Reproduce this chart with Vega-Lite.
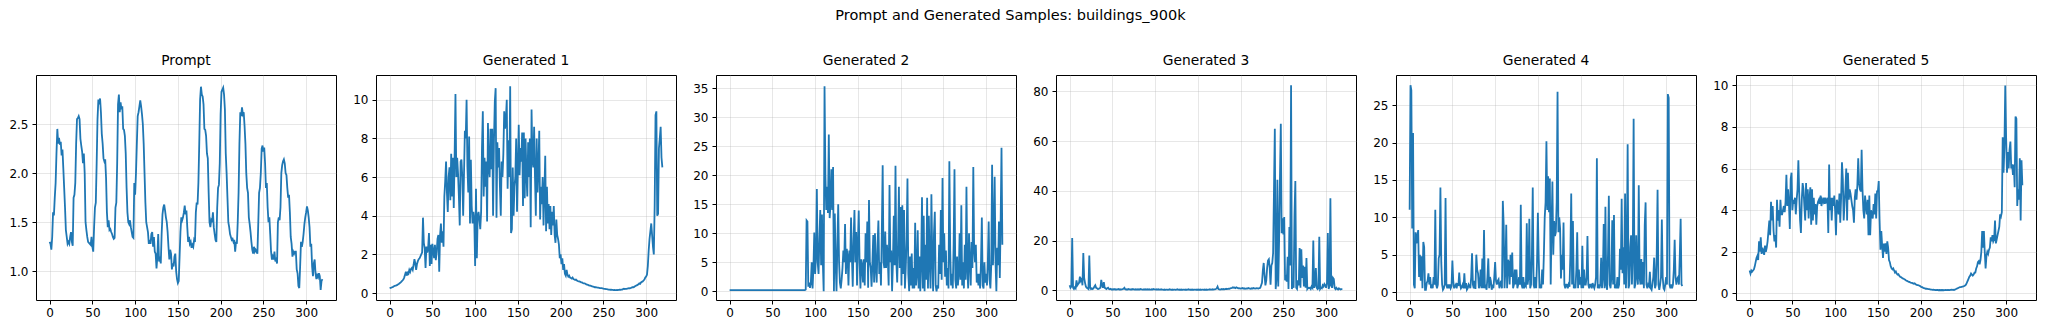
{
"$schema": "https://vega.github.io/schema/vega-lite/v6.json",
"background": "white",
"padding": {"left": 8, "top": 8, "right": 5, "bottom": 5},
"title": {"text": "Prompt and Generated Samples: buildings_900k", "fontSize": 14.5, "fontWeight": "normal", "font": "DejaVu Sans", "color": "#000000", "anchor": "middle", "dx": -12, "offset": 30},
"config": {
 "font": "DejaVu Sans",
 "view": {"stroke": "#000000", "strokeWidth": 1},
 "axis": {"domain": false, "labelFont": "DejaVu Sans", "labelFontSize": 12, "labelColor": "#000000", "tickColor": "#000000", "tickSize": 4, "tickWidth": 1, "labelPadding": 3, "gridColor": "#b0b0b0", "gridOpacity": 0.3, "gridWidth": 1},
 "axisY": {"labelPadding": 4},
 "title": {"font": "DejaVu Sans", "fontSize": 13.8, "fontWeight": "normal", "color": "#000000", "offset": 7},
 "line": {"color": "#1f77b4", "strokeWidth": 1.8},
 "concat": {"spacing": 40}
},
"spacing": 40,
"bounds": "flush",
"datasets": {
"prompt": [
{"i":0,"v":1.30},{"i":1,"v":1.28},{"i":2,"v":1.22},{"i":3,"v":1.35},{"i":4,"v":1.60},{"i":5,"v":1.57},{"i":6,"v":1.75},{"i":7,"v":1.90},{"i":8,"v":2.20},{"i":9,"v":2.45},
{"i":10,"v":2.30},{"i":11,"v":2.36},{"i":12,"v":2.29},{"i":13,"v":2.32},{"i":14,"v":2.18},{"i":15,"v":2.24},{"i":16,"v":2.05},{"i":17,"v":1.85},{"i":18,"v":1.65},{"i":19,"v":1.42},
{"i":20,"v":1.35},{"i":21,"v":1.28},{"i":22,"v":1.30},{"i":23,"v":1.28},{"i":24,"v":1.35},{"i":25,"v":1.40},{"i":26,"v":1.30},{"i":27,"v":1.26},{"i":28,"v":1.75},{"i":29,"v":1.78},
{"i":30,"v":1.90},{"i":31,"v":2.30},{"i":32,"v":2.55},{"i":33,"v":2.56},{"i":34,"v":2.58},{"i":35,"v":2.55},{"i":36,"v":2.35},{"i":37,"v":2.28},{"i":38,"v":2.22},{"i":39,"v":2.10},
{"i":40,"v":2.20},{"i":41,"v":2.00},{"i":42,"v":1.50},{"i":43,"v":1.42},{"i":44,"v":1.35},{"i":45,"v":1.30},{"i":46,"v":1.29},{"i":47,"v":1.28},{"i":48,"v":1.27},{"i":49,"v":1.35},
{"i":50,"v":1.25},{"i":51,"v":1.20},{"i":52,"v":1.45},{"i":53,"v":1.65},{"i":54,"v":1.70},{"i":55,"v":2.10},{"i":56,"v":2.55},{"i":57,"v":2.75},{"i":58,"v":2.70},{"i":59,"v":2.76},
{"i":60,"v":2.62},{"i":61,"v":2.40},{"i":62,"v":2.30},{"i":63,"v":2.15},{"i":64,"v":2.12},{"i":65,"v":2.14},{"i":66,"v":1.95},{"i":67,"v":1.60},{"i":68,"v":1.45},{"i":69,"v":1.52},
{"i":70,"v":1.42},{"i":71,"v":1.43},{"i":72,"v":1.40},{"i":73,"v":1.38},{"i":74,"v":1.35},{"i":75,"v":1.33},{"i":76,"v":1.34},{"i":77,"v":1.65},{"i":78,"v":1.70},{"i":79,"v":2.10},
{"i":80,"v":2.70},{"i":81,"v":2.80},{"i":82,"v":2.62},{"i":83,"v":2.72},{"i":84,"v":2.65},{"i":85,"v":2.68},{"i":86,"v":2.45},{"i":87,"v":2.44},{"i":88,"v":2.38},{"i":89,"v":2.20},
{"i":90,"v":1.85},{"i":91,"v":1.60},{"i":92,"v":1.50},{"i":93,"v":1.48},{"i":94,"v":1.52},{"i":95,"v":1.45},{"i":96,"v":1.40},{"i":97,"v":1.35},{"i":98,"v":1.34},{"i":99,"v":1.90},
{"i":100,"v":1.78},{"i":101,"v":2.00},{"i":102,"v":2.30},{"i":103,"v":2.58},{"i":104,"v":2.62},{"i":105,"v":2.68},{"i":106,"v":2.74},{"i":107,"v":2.68},{"i":108,"v":2.60},{"i":109,"v":2.50},
{"i":110,"v":2.30},{"i":111,"v":2.00},{"i":112,"v":1.70},{"i":113,"v":1.50},{"i":114,"v":1.45},{"i":115,"v":1.40},{"i":116,"v":1.28},{"i":117,"v":1.32},{"i":118,"v":1.28},{"i":119,"v":1.38},
{"i":120,"v":1.40},{"i":121,"v":1.25},{"i":122,"v":1.35},{"i":123,"v":1.20},{"i":124,"v":1.18},{"i":125,"v":1.03},{"i":126,"v":1.15},{"i":127,"v":1.38},{"i":128,"v":1.10},{"i":129,"v":1.15},
{"i":130,"v":1.08},{"i":131,"v":1.38},{"i":132,"v":1.58},{"i":133,"v":1.65},{"i":134,"v":1.68},{"i":135,"v":1.62},{"i":136,"v":1.55},{"i":137,"v":1.50},{"i":138,"v":1.40},{"i":139,"v":1.25},
{"i":140,"v":1.12},{"i":141,"v":1.22},{"i":142,"v":1.18},{"i":143,"v":1.02},{"i":144,"v":1.08},{"i":145,"v":1.05},{"i":146,"v":1.15},{"i":147,"v":1.18},{"i":148,"v":1.00},{"i":149,"v":0.92},
{"i":150,"v":0.88},{"i":151,"v":0.90},{"i":152,"v":1.15},{"i":153,"v":1.40},{"i":154,"v":1.55},{"i":155,"v":1.52},{"i":156,"v":1.55},{"i":157,"v":1.60},{"i":158,"v":1.67},{"i":159,"v":1.58},
{"i":160,"v":1.62},{"i":161,"v":1.45},{"i":162,"v":1.30},{"i":163,"v":1.35},{"i":164,"v":1.28},{"i":165,"v":1.30},{"i":166,"v":1.24},{"i":167,"v":1.27},{"i":168,"v":1.25},{"i":169,"v":1.32},
{"i":170,"v":1.30},{"i":171,"v":1.60},{"i":172,"v":1.70},{"i":173,"v":1.68},{"i":174,"v":1.90},{"i":175,"v":2.30},{"i":176,"v":2.75},{"i":177,"v":2.88},{"i":178,"v":2.80},{"i":179,"v":2.78},
{"i":180,"v":2.70},{"i":181,"v":2.45},{"i":182,"v":2.44},{"i":183,"v":2.38},{"i":184,"v":2.20},{"i":185,"v":2.15},{"i":186,"v":1.80},{"i":187,"v":1.50},{"i":188,"v":1.45},{"i":189,"v":1.52},
{"i":190,"v":1.50},{"i":191,"v":1.60},{"i":192,"v":1.45},{"i":193,"v":1.38},{"i":194,"v":1.32},{"i":195,"v":1.30},{"i":196,"v":1.65},{"i":197,"v":1.85},{"i":198,"v":1.88},{"i":199,"v":2.10},
{"i":200,"v":2.60},{"i":201,"v":2.83},{"i":202,"v":2.85},{"i":203,"v":2.87},{"i":204,"v":2.80},{"i":205,"v":2.65},{"i":206,"v":2.20},{"i":207,"v":2.00},{"i":208,"v":1.75},{"i":209,"v":1.50},
{"i":210,"v":1.45},{"i":211,"v":1.38},{"i":212,"v":1.35},{"i":213,"v":1.32},{"i":214,"v":1.33},{"i":215,"v":1.30},{"i":216,"v":1.32},{"i":217,"v":1.20},{"i":218,"v":1.30},{"i":219,"v":1.28},
{"i":220,"v":1.50},{"i":221,"v":1.80},{"i":222,"v":2.30},{"i":223,"v":2.62},{"i":224,"v":2.58},{"i":225,"v":2.67},{"i":226,"v":2.60},{"i":227,"v":2.62},{"i":228,"v":2.48},{"i":229,"v":2.30},
{"i":230,"v":2.00},{"i":231,"v":1.85},{"i":232,"v":1.80},{"i":233,"v":1.55},{"i":234,"v":1.48},{"i":235,"v":1.40},{"i":236,"v":1.30},{"i":237,"v":1.22},{"i":238,"v":1.18},{"i":239,"v":1.25},
{"i":240,"v":1.20},{"i":241,"v":1.22},{"i":242,"v":1.20},{"i":243,"v":1.18},{"i":244,"v":1.48},{"i":245,"v":1.80},{"i":246,"v":1.85},{"i":247,"v":2.00},{"i":248,"v":2.25},{"i":249,"v":2.28},
{"i":250,"v":2.22},{"i":251,"v":2.26},{"i":252,"v":2.10},{"i":253,"v":1.85},{"i":254,"v":1.90},{"i":255,"v":1.65},{"i":256,"v":1.50},{"i":257,"v":1.55},{"i":258,"v":1.38},{"i":259,"v":1.20},
{"i":260,"v":1.12},{"i":261,"v":1.15},{"i":262,"v":1.12},{"i":263,"v":1.20},{"i":264,"v":1.10},{"i":265,"v":1.12},{"i":266,"v":1.08},{"i":267,"v":1.50},{"i":268,"v":1.55},{"i":269,"v":1.52},
{"i":270,"v":1.65},{"i":271,"v":2.00},{"i":272,"v":2.08},{"i":273,"v":2.12},{"i":274,"v":2.14},{"i":275,"v":2.10},{"i":276,"v":2.00},{"i":277,"v":1.98},{"i":278,"v":1.85},{"i":279,"v":1.75},
{"i":280,"v":1.78},{"i":281,"v":1.60},{"i":282,"v":1.35},{"i":283,"v":1.28},{"i":284,"v":1.15},{"i":285,"v":1.20},{"i":286,"v":1.18},{"i":287,"v":1.20},{"i":288,"v":1.20},{"i":289,"v":1.02},
{"i":290,"v":0.98},{"i":291,"v":0.85},{"i":292,"v":0.83},{"i":293,"v":1.05},{"i":294,"v":1.30},{"i":295,"v":1.25},{"i":296,"v":1.30},{"i":297,"v":1.38},{"i":298,"v":1.48},{"i":299,"v":1.55},
{"i":300,"v":1.60},{"i":301,"v":1.66},{"i":302,"v":1.62},{"i":303,"v":1.55},{"i":304,"v":1.45},{"i":305,"v":1.25},{"i":306,"v":1.28},{"i":307,"v":1.05},{"i":308,"v":0.95},{"i":309,"v":1.08},
{"i":310,"v":1.12},{"i":311,"v":0.98},{"i":312,"v":0.92},{"i":313,"v":0.96},{"i":314,"v":0.94},{"i":315,"v":0.98},{"i":316,"v":0.95},{"i":317,"v":0.81},{"i":318,"v":0.90},{"i":319,"v":0.92}
],
"g1": [
{"i":0,"v":0.25},{"i":1,"v":0.27},{"i":2,"v":0.28},{"i":3,"v":0.30},{"i":4,"v":0.32},{"i":5,"v":0.35},{"i":6,"v":0.37},{"i":7,"v":0.38},{"i":8,"v":0.40},{"i":9,"v":0.42},
{"i":10,"v":0.45},{"i":11,"v":0.48},{"i":12,"v":0.52},{"i":13,"v":0.55},{"i":14,"v":0.60},{"i":15,"v":0.65},{"i":16,"v":0.70},{"i":17,"v":0.80},{"i":18,"v":0.95},{"i":19,"v":1.10},
{"i":20,"v":0.90},{"i":21,"v":1.05},{"i":22,"v":1.00},{"i":23,"v":1.20},{"i":24,"v":1.10},{"i":25,"v":1.25},{"i":26,"v":1.30},{"i":27,"v":1.20},{"i":28,"v":1.45},{"i":29,"v":1.75},
{"i":30,"v":1.55},{"i":31,"v":1.20},{"i":32,"v":1.50},{"i":33,"v":1.65},{"i":34,"v":1.75},{"i":35,"v":1.80},{"i":36,"v":1.90},{"i":37,"v":2.00},{"i":38,"v":2.10},{"i":39,"v":3.90},
{"i":40,"v":2.60},{"i":41,"v":2.30},{"i":42,"v":1.30},{"i":43,"v":2.40},{"i":44,"v":2.10},{"i":45,"v":2.30},{"i":46,"v":3.10},{"i":47,"v":1.40},{"i":48,"v":2.50},{"i":49,"v":1.50},
{"i":50,"v":2.55},{"i":51,"v":2.20},{"i":52,"v":1.80},{"i":53,"v":2.50},{"i":54,"v":1.70},{"i":55,"v":2.10},{"i":56,"v":2.80},{"i":57,"v":3.00},{"i":58,"v":1.10},{"i":59,"v":3.00},
{"i":60,"v":3.60},{"i":61,"v":2.60},{"i":62,"v":3.20},{"i":63,"v":2.40},{"i":64,"v":5.00},{"i":65,"v":5.80},{"i":66,"v":6.80},{"i":67,"v":5.20},{"i":68,"v":4.20},{"i":69,"v":6.00},
{"i":70,"v":6.50},{"i":71,"v":4.80},{"i":72,"v":7.20},{"i":73,"v":5.00},{"i":74,"v":7.00},{"i":75,"v":4.40},{"i":76,"v":7.10},{"i":77,"v":10.30},{"i":78,"v":6.00},{"i":79,"v":7.00},
{"i":80,"v":6.20},{"i":81,"v":5.00},{"i":82,"v":3.50},{"i":83,"v":6.80},{"i":84,"v":6.90},{"i":85,"v":6.00},{"i":86,"v":4.00},{"i":87,"v":6.20},{"i":88,"v":8.40},{"i":89,"v":8.00},
{"i":90,"v":10.00},{"i":91,"v":6.50},{"i":92,"v":5.20},{"i":93,"v":8.10},{"i":94,"v":3.60},{"i":95,"v":6.90},{"i":96,"v":4.50},{"i":97,"v":3.60},{"i":98,"v":4.20},{"i":99,"v":3.80},
{"i":100,"v":1.40},{"i":101,"v":5.40},{"i":102,"v":1.80},{"i":103,"v":4.00},{"i":104,"v":4.20},{"i":105,"v":3.80},{"i":106,"v":3.30},{"i":107,"v":4.20},{"i":108,"v":7.50},{"i":109,"v":9.40},
{"i":110,"v":5.00},{"i":111,"v":7.00},{"i":112,"v":5.50},{"i":113,"v":6.80},{"i":114,"v":3.70},{"i":115,"v":8.80},{"i":116,"v":6.50},{"i":117,"v":6.00},{"i":118,"v":8.50},{"i":119,"v":6.40},
{"i":120,"v":8.50},{"i":121,"v":4.00},{"i":122,"v":7.80},{"i":123,"v":9.90},{"i":124,"v":10.60},{"i":125,"v":3.90},{"i":126,"v":7.80},{"i":127,"v":6.50},{"i":128,"v":7.50},{"i":129,"v":5.50},
{"i":130,"v":4.00},{"i":131,"v":6.80},{"i":132,"v":6.00},{"i":133,"v":7.20},{"i":134,"v":9.40},{"i":135,"v":8.50},{"i":136,"v":9.00},{"i":137,"v":10.00},{"i":138,"v":5.40},{"i":139,"v":7.90},
{"i":140,"v":6.00},{"i":141,"v":10.70},{"i":142,"v":3.10},{"i":143,"v":3.30},{"i":144,"v":6.50},{"i":145,"v":4.00},{"i":146,"v":5.50},{"i":147,"v":6.00},{"i":148,"v":8.00},{"i":149,"v":4.20},
{"i":150,"v":6.50},{"i":151,"v":8.70},{"i":152,"v":6.10},{"i":153,"v":7.50},{"i":154,"v":6.80},{"i":155,"v":8.30},{"i":156,"v":4.50},{"i":157,"v":8.30},{"i":158,"v":4.90},{"i":159,"v":8.00},
{"i":160,"v":6.20},{"i":161,"v":5.00},{"i":162,"v":7.80},{"i":163,"v":6.00},{"i":164,"v":8.00},{"i":165,"v":3.40},{"i":166,"v":9.50},{"i":167,"v":7.00},{"i":168,"v":6.50},{"i":169,"v":8.60},
{"i":170,"v":6.00},{"i":171,"v":4.00},{"i":172,"v":8.00},{"i":173,"v":5.20},{"i":174,"v":6.50},{"i":175,"v":8.40},{"i":176,"v":3.80},{"i":177,"v":5.50},{"i":178,"v":4.60},{"i":179,"v":6.00},
{"i":180,"v":3.50},{"i":181,"v":5.20},{"i":182,"v":7.10},{"i":183,"v":3.20},{"i":184,"v":5.50},{"i":185,"v":3.60},{"i":186,"v":4.60},{"i":187,"v":3.30},{"i":188,"v":4.50},{"i":189,"v":3.00},
{"i":190,"v":4.20},{"i":191,"v":3.50},{"i":192,"v":4.50},{"i":193,"v":3.00},{"i":194,"v":2.60},{"i":195,"v":3.80},{"i":196,"v":3.00},{"i":197,"v":2.80},{"i":198,"v":2.50},{"i":199,"v":1.80},
{"i":200,"v":2.00},{"i":201,"v":1.50},{"i":202,"v":1.80},{"i":203,"v":1.20},{"i":204,"v":1.50},{"i":205,"v":1.00},{"i":206,"v":0.90},{"i":207,"v":1.20},{"i":208,"v":0.95},{"i":209,"v":0.85},
{"i":210,"v":0.90},{"i":211,"v":0.80},{"i":212,"v":0.78},{"i":213,"v":0.75},{"i":214,"v":0.80},{"i":215,"v":0.72},{"i":216,"v":0.70},{"i":217,"v":0.68},{"i":218,"v":0.70},{"i":219,"v":0.65},
{"i":220,"v":0.62},{"i":221,"v":0.60},{"i":222,"v":0.60},{"i":223,"v":0.58},{"i":224,"v":0.55},{"i":225,"v":0.55},{"i":226,"v":0.52},{"i":227,"v":0.50},{"i":228,"v":0.50},{"i":229,"v":0.48},
{"i":230,"v":0.45},{"i":231,"v":0.44},{"i":232,"v":0.42},{"i":233,"v":0.40},{"i":234,"v":0.38},{"i":235,"v":0.38},{"i":236,"v":0.36},{"i":237,"v":0.34},{"i":238,"v":0.33},{"i":239,"v":0.32},
{"i":240,"v":0.30},{"i":241,"v":0.30},{"i":242,"v":0.29},{"i":243,"v":0.28},{"i":244,"v":0.28},{"i":245,"v":0.27},{"i":246,"v":0.26},{"i":247,"v":0.25},{"i":248,"v":0.25},{"i":249,"v":0.24},
{"i":250,"v":0.23},{"i":251,"v":0.22},{"i":252,"v":0.21},{"i":253,"v":0.20},{"i":254,"v":0.20},{"i":255,"v":0.19},{"i":256,"v":0.18},{"i":257,"v":0.18},{"i":258,"v":0.17},{"i":259,"v":0.17},
{"i":260,"v":0.16},{"i":261,"v":0.16},{"i":262,"v":0.15},{"i":263,"v":0.16},{"i":264,"v":0.15},{"i":265,"v":0.15},{"i":266,"v":0.16},{"i":267,"v":0.15},{"i":268,"v":0.16},{"i":269,"v":0.17},
{"i":270,"v":0.17},{"i":271,"v":0.18},{"i":272,"v":0.18},{"i":273,"v":0.20},{"i":274,"v":0.22},{"i":275,"v":0.20},{"i":276,"v":0.21},{"i":277,"v":0.22},{"i":278,"v":0.23},{"i":279,"v":0.24},
{"i":280,"v":0.25},{"i":281,"v":0.24},{"i":282,"v":0.26},{"i":283,"v":0.28},{"i":284,"v":0.30},{"i":285,"v":0.30},{"i":286,"v":0.32},{"i":287,"v":0.35},{"i":288,"v":0.38},{"i":289,"v":0.40},
{"i":290,"v":0.42},{"i":291,"v":0.45},{"i":292,"v":0.50},{"i":293,"v":0.48},{"i":294,"v":0.55},{"i":295,"v":0.58},{"i":296,"v":0.60},{"i":297,"v":0.65},{"i":298,"v":0.70},{"i":299,"v":0.80},
{"i":300,"v":0.85},{"i":301,"v":0.95},{"i":302,"v":1.40},{"i":303,"v":2.20},{"i":304,"v":2.80},{"i":305,"v":3.20},{"i":306,"v":3.60},{"i":307,"v":3.00},{"i":308,"v":2.40},{"i":309,"v":2.00},
{"i":310,"v":4.50},{"i":311,"v":9.20},{"i":312,"v":9.40},{"i":313,"v":4.00},{"i":314,"v":4.10},{"i":315,"v":7.50},{"i":316,"v":8.00},{"i":317,"v":8.60},{"i":318,"v":7.00},{"i":319,"v":6.50}
],
"g2": [
{"i":0,"v":0.2},{"i":1,"v":0.2},{"i":2,"v":0.2},{"i":3,"v":0.2},{"i":4,"v":0.2},{"i":5,"v":0.2},{"i":6,"v":0.2},{"i":7,"v":0.2},{"i":8,"v":0.2},{"i":9,"v":0.2},
{"i":10,"v":0.2},{"i":11,"v":0.2},{"i":12,"v":0.2},{"i":13,"v":0.2},{"i":14,"v":0.2},{"i":15,"v":0.2},{"i":16,"v":0.2},{"i":17,"v":0.2},{"i":18,"v":0.2},{"i":19,"v":0.2},
{"i":20,"v":0.2},{"i":21,"v":0.2},{"i":22,"v":0.2},{"i":23,"v":0.2},{"i":24,"v":0.2},{"i":25,"v":0.2},{"i":26,"v":0.2},{"i":27,"v":0.2},{"i":28,"v":0.2},{"i":29,"v":0.2},
{"i":30,"v":0.2},{"i":31,"v":0.2},{"i":32,"v":0.2},{"i":33,"v":0.2},{"i":34,"v":0.2},{"i":35,"v":0.2},{"i":36,"v":0.2},{"i":37,"v":0.2},{"i":38,"v":0.2},{"i":39,"v":0.2},
{"i":40,"v":0.2},{"i":41,"v":0.2},{"i":42,"v":0.2},{"i":43,"v":0.2},{"i":44,"v":0.2},{"i":45,"v":0.2},{"i":46,"v":0.2},{"i":47,"v":0.2},{"i":48,"v":0.2},{"i":49,"v":0.2},
{"i":50,"v":0.2},{"i":51,"v":0.2},{"i":52,"v":0.2},{"i":53,"v":0.2},{"i":54,"v":0.2},{"i":55,"v":0.2},{"i":56,"v":0.2},{"i":57,"v":0.2},{"i":58,"v":0.2},{"i":59,"v":0.2},
{"i":60,"v":0.2},{"i":61,"v":0.2},{"i":62,"v":0.2},{"i":63,"v":0.2},{"i":64,"v":0.2},{"i":65,"v":0.2},{"i":66,"v":0.2},{"i":67,"v":0.2},{"i":68,"v":0.2},{"i":69,"v":0.2},
{"i":70,"v":0.2},{"i":71,"v":0.2},{"i":72,"v":0.2},{"i":73,"v":0.2},{"i":74,"v":0.2},{"i":75,"v":0.2},{"i":76,"v":0.2},{"i":77,"v":0.2},{"i":78,"v":0.2},{"i":79,"v":0.2},
{"i":80,"v":0.2},{"i":81,"v":0.2},{"i":82,"v":0.2},{"i":83,"v":0.2},{"i":84,"v":0.2},{"i":85,"v":0.2},{"i":86,"v":0.2},{"i":87,"v":0.2},{"i":88,"v":0.2},{"i":89,"v":0.3},
{"i":90,"v":12.2},{"i":91,"v":12.0},{"i":92,"v":0.8},{"i":93,"v":1.5},{"i":94,"v":0.6},{"i":95,"v":1.5},{"i":96,"v":5.0},{"i":97,"v":0.5},{"i":98,"v":4.0},{"i":99,"v":10.1},
{"i":100,"v":3.0},{"i":101,"v":6.0},{"i":102,"v":17.6},{"i":103,"v":5.0},{"i":104,"v":3.0},{"i":105,"v":9.0},{"i":106,"v":14.0},{"i":107,"v":4.5},{"i":108,"v":13.2},{"i":109,"v":5.0},
{"i":110,"v":0.0},{"i":111,"v":35.3},{"i":112,"v":20.0},{"i":113,"v":14.0},{"i":114,"v":18.0},{"i":115,"v":13.5},{"i":116,"v":27.0},{"i":117,"v":12.6},{"i":118,"v":15.0},{"i":119,"v":21.0},
{"i":120,"v":14.0},{"i":121,"v":21.4},{"i":122,"v":0.0},{"i":123,"v":13.4},{"i":124,"v":5.0},{"i":125,"v":0.0},{"i":126,"v":8.0},{"i":127,"v":15.0},{"i":128,"v":5.0},{"i":129,"v":1.5},
{"i":130,"v":0.5},{"i":131,"v":2.0},{"i":132,"v":4.0},{"i":133,"v":7.0},{"i":134,"v":5.0},{"i":135,"v":11.6},{"i":136,"v":3.0},{"i":137,"v":7.3},{"i":138,"v":6.0},{"i":139,"v":1.0},
{"i":140,"v":7.0},{"i":141,"v":5.0},{"i":142,"v":12.7},{"i":143,"v":6.0},{"i":144,"v":0.8},{"i":145,"v":9.0},{"i":146,"v":14.0},{"i":147,"v":5.0},{"i":148,"v":10.2},{"i":149,"v":1.0},
{"i":150,"v":8.0},{"i":151,"v":13.9},{"i":152,"v":5.0},{"i":153,"v":0.5},{"i":154,"v":5.5},{"i":155,"v":4.5},{"i":156,"v":1.5},{"i":157,"v":5.5},{"i":158,"v":1.0},{"i":159,"v":10.0},
{"i":160,"v":5.0},{"i":161,"v":12.0},{"i":162,"v":0.6},{"i":163,"v":15.7},{"i":164,"v":5.0},{"i":165,"v":4.0},{"i":166,"v":0.8},{"i":167,"v":5.0},{"i":168,"v":9.7},{"i":169,"v":1.5},
{"i":170,"v":10.0},{"i":171,"v":4.0},{"i":172,"v":1.5},{"i":173,"v":8.0},{"i":174,"v":12.2},{"i":175,"v":3.0},{"i":176,"v":5.0},{"i":177,"v":1.0},{"i":178,"v":10.3},{"i":179,"v":21.7},
{"i":180,"v":5.0},{"i":181,"v":4.0},{"i":182,"v":10.3},{"i":183,"v":4.0},{"i":184,"v":8.0},{"i":185,"v":5.5},{"i":186,"v":1.0},{"i":187,"v":18.3},{"i":188,"v":5.0},{"i":189,"v":7.0},
{"i":190,"v":0.0},{"i":191,"v":5.0},{"i":192,"v":13.0},{"i":193,"v":4.5},{"i":194,"v":21.6},{"i":195,"v":5.0},{"i":196,"v":1.5},{"i":197,"v":8.0},{"i":198,"v":18.0},{"i":199,"v":4.0},
{"i":200,"v":14.5},{"i":201,"v":1.0},{"i":202,"v":14.8},{"i":203,"v":3.0},{"i":204,"v":14.0},{"i":205,"v":0.5},{"i":206,"v":4.0},{"i":207,"v":9.0},{"i":208,"v":19.4},{"i":209,"v":3.0},
{"i":210,"v":0.0},{"i":211,"v":6.0},{"i":212,"v":1.0},{"i":213,"v":6.5},{"i":214,"v":0.5},{"i":215,"v":4.0},{"i":216,"v":0.5},{"i":217,"v":11.8},{"i":218,"v":1.0},{"i":219,"v":3.0},
{"i":220,"v":10.5},{"i":221,"v":0.5},{"i":222,"v":6.0},{"i":223,"v":0.0},{"i":224,"v":5.0},{"i":225,"v":16.2},{"i":226,"v":0.5},{"i":227,"v":13.0},{"i":228,"v":0.0},{"i":229,"v":8.0},
{"i":230,"v":2.0},{"i":231,"v":16.1},{"i":232,"v":0.5},{"i":233,"v":13.0},{"i":234,"v":5.0},{"i":235,"v":0.5},{"i":236,"v":16.7},{"i":237,"v":6.0},{"i":238,"v":0.0},{"i":239,"v":10.0},
{"i":240,"v":13.7},{"i":241,"v":1.0},{"i":242,"v":0.0},{"i":243,"v":1.0},{"i":244,"v":0.5},{"i":245,"v":8.0},{"i":246,"v":3.0},{"i":247,"v":14.0},{"i":248,"v":2.0},{"i":249,"v":19.5},
{"i":250,"v":5.0},{"i":251,"v":10.0},{"i":252,"v":2.5},{"i":253,"v":7.0},{"i":254,"v":1.0},{"i":255,"v":4.0},{"i":256,"v":0.5},{"i":257,"v":22.4},{"i":258,"v":7.0},{"i":259,"v":1.0},
{"i":260,"v":3.0},{"i":261,"v":0.5},{"i":262,"v":8.0},{"i":263,"v":21.0},{"i":264,"v":2.0},{"i":265,"v":0.5},{"i":266,"v":6.0},{"i":267,"v":1.0},{"i":268,"v":3.0},{"i":269,"v":10.0},
{"i":270,"v":2.0},{"i":271,"v":14.8},{"i":272,"v":1.0},{"i":273,"v":5.0},{"i":274,"v":0.5},{"i":275,"v":8.0},{"i":276,"v":2.0},{"i":277,"v":18.0},{"i":278,"v":4.0},{"i":279,"v":0.5},
{"i":280,"v":10.0},{"i":281,"v":5.0},{"i":282,"v":1.0},{"i":283,"v":8.5},{"i":284,"v":4.0},{"i":285,"v":21.4},{"i":286,"v":7.0},{"i":287,"v":5.0},{"i":288,"v":8.0},{"i":289,"v":1.5},
{"i":290,"v":3.0},{"i":291,"v":1.0},{"i":292,"v":3.0},{"i":293,"v":0.5},{"i":294,"v":5.0},{"i":295,"v":12.7},{"i":296,"v":1.0},{"i":297,"v":0.5},{"i":298,"v":5.0},{"i":299,"v":1.5},
{"i":300,"v":3.0},{"i":301,"v":1.0},{"i":302,"v":5.0},{"i":303,"v":12.0},{"i":304,"v":2.0},{"i":305,"v":0.5},{"i":306,"v":4.5},{"i":307,"v":21.8},{"i":308,"v":4.5},{"i":309,"v":10.0},
{"i":310,"v":19.7},{"i":311,"v":5.0},{"i":312,"v":0.0},{"i":313,"v":7.5},{"i":314,"v":4.5},{"i":315,"v":12.0},{"i":316,"v":2.3},{"i":317,"v":12.0},{"i":318,"v":24.7},{"i":319,"v":8.0}
],
"g3": [
{"i":0,"v":2.0},{"i":1,"v":1.0},{"i":2,"v":1.5},{"i":3,"v":21.0},{"i":4,"v":1.0},{"i":5,"v":0.5},{"i":6,"v":1.2},{"i":7,"v":0.8},{"i":8,"v":4.0},{"i":9,"v":2.0},
{"i":10,"v":2.5},{"i":11,"v":3.0},{"i":12,"v":5.5},{"i":13,"v":4.0},{"i":14,"v":5.0},{"i":15,"v":2.0},{"i":16,"v":15.0},{"i":17,"v":5.0},{"i":18,"v":3.0},{"i":19,"v":1.5},
{"i":20,"v":1.0},{"i":21,"v":0.8},{"i":22,"v":0.5},{"i":23,"v":14.0},{"i":24,"v":1.0},{"i":25,"v":0.5},{"i":26,"v":0.8},{"i":27,"v":0.5},{"i":28,"v":0.8},{"i":29,"v":1.5},
{"i":30,"v":2.0},{"i":31,"v":1.0},{"i":32,"v":0.8},{"i":33,"v":0.5},{"i":34,"v":0.6},{"i":35,"v":0.8},{"i":36,"v":1.0},{"i":37,"v":4.2},{"i":38,"v":2.0},{"i":39,"v":1.0},
{"i":40,"v":3.3},{"i":41,"v":1.0},{"i":42,"v":0.8},{"i":43,"v":0.5},{"i":44,"v":0.8},{"i":45,"v":1.0},{"i":46,"v":0.5},{"i":47,"v":0.4},{"i":48,"v":0.6},{"i":49,"v":0.3},
{"i":50,"v":0.4},{"i":51,"v":0.3},{"i":52,"v":0.5},{"i":53,"v":0.3},{"i":54,"v":0.4},{"i":55,"v":0.3},{"i":56,"v":0.4},{"i":57,"v":0.5},{"i":58,"v":0.3},{"i":59,"v":0.4},
{"i":60,"v":0.3},{"i":61,"v":0.4},{"i":62,"v":0.5},{"i":63,"v":0.6},{"i":64,"v":1.0},{"i":65,"v":0.4},{"i":66,"v":0.3},{"i":67,"v":0.4},{"i":68,"v":0.3},{"i":69,"v":0.5},
{"i":70,"v":0.4},{"i":71,"v":0.3},{"i":72,"v":0.4},{"i":73,"v":0.3},{"i":74,"v":0.5},{"i":75,"v":0.4},{"i":76,"v":0.3},{"i":77,"v":0.4},{"i":78,"v":0.3},{"i":79,"v":0.4},
{"i":80,"v":0.3},{"i":81,"v":0.4},{"i":82,"v":0.3},{"i":83,"v":0.5},{"i":84,"v":0.4},{"i":85,"v":0.3},{"i":86,"v":0.3},{"i":87,"v":0.4},{"i":88,"v":0.3},{"i":89,"v":0.4},
{"i":90,"v":0.3},{"i":91,"v":0.4},{"i":92,"v":0.3},{"i":93,"v":0.4},{"i":94,"v":0.3},{"i":95,"v":0.3},{"i":96,"v":0.4},{"i":97,"v":0.3},{"i":98,"v":0.5},{"i":99,"v":0.4},
{"i":100,"v":0.4},{"i":101,"v":0.3},{"i":102,"v":0.4},{"i":103,"v":0.3},{"i":104,"v":0.4},{"i":105,"v":0.3},{"i":106,"v":0.3},{"i":107,"v":0.4},{"i":108,"v":0.3},{"i":109,"v":0.3},
{"i":110,"v":0.2},{"i":111,"v":0.3},{"i":112,"v":0.2},{"i":113,"v":0.3},{"i":114,"v":0.3},{"i":115,"v":0.2},{"i":116,"v":0.3},{"i":117,"v":0.4},{"i":118,"v":0.3},{"i":119,"v":0.2},
{"i":120,"v":0.3},{"i":121,"v":0.2},{"i":122,"v":0.3},{"i":123,"v":0.3},{"i":124,"v":0.2},{"i":125,"v":0.3},{"i":126,"v":0.4},{"i":127,"v":0.3},{"i":128,"v":0.2},{"i":129,"v":0.3},
{"i":130,"v":0.2},{"i":131,"v":0.3},{"i":132,"v":0.2},{"i":133,"v":0.3},{"i":134,"v":0.3},{"i":135,"v":0.2},{"i":136,"v":0.3},{"i":137,"v":0.2},{"i":138,"v":0.3},{"i":139,"v":0.4},
{"i":140,"v":0.3},{"i":141,"v":0.2},{"i":142,"v":0.3},{"i":143,"v":0.2},{"i":144,"v":0.3},{"i":145,"v":0.2},{"i":146,"v":0.3},{"i":147,"v":0.3},{"i":148,"v":0.2},{"i":149,"v":0.3},
{"i":150,"v":0.2},{"i":151,"v":0.3},{"i":152,"v":0.2},{"i":153,"v":0.3},{"i":154,"v":0.2},{"i":155,"v":0.3},{"i":156,"v":0.3},{"i":157,"v":0.2},{"i":158,"v":0.3},{"i":159,"v":0.2},
{"i":160,"v":0.3},{"i":161,"v":0.2},{"i":162,"v":0.3},{"i":163,"v":0.3},{"i":164,"v":0.4},{"i":165,"v":0.3},{"i":166,"v":0.3},{"i":167,"v":0.4},{"i":168,"v":0.3},{"i":169,"v":0.4},
{"i":170,"v":0.4},{"i":171,"v":0.5},{"i":172,"v":0.8},{"i":173,"v":1.5},{"i":174,"v":0.5},{"i":175,"v":0.4},{"i":176,"v":0.3},{"i":177,"v":0.4},{"i":178,"v":0.5},{"i":179,"v":0.4},
{"i":180,"v":0.5},{"i":181,"v":0.4},{"i":182,"v":0.5},{"i":183,"v":0.6},{"i":184,"v":0.5},{"i":185,"v":0.6},{"i":186,"v":0.7},{"i":187,"v":0.6},{"i":188,"v":0.8},{"i":189,"v":0.9},
{"i":190,"v":1.0},{"i":191,"v":1.2},{"i":192,"v":1.0},{"i":193,"v":1.1},{"i":194,"v":0.9},{"i":195,"v":1.2},{"i":196,"v":1.0},{"i":197,"v":0.8},{"i":198,"v":0.9},{"i":199,"v":0.8},
{"i":200,"v":0.7},{"i":201,"v":0.8},{"i":202,"v":0.9},{"i":203,"v":0.7},{"i":204,"v":0.8},{"i":205,"v":0.6},{"i":206,"v":0.7},{"i":207,"v":0.8},{"i":208,"v":0.7},{"i":209,"v":0.9},
{"i":210,"v":0.8},{"i":211,"v":0.7},{"i":212,"v":0.6},{"i":213,"v":0.8},{"i":214,"v":0.7},{"i":215,"v":0.9},{"i":216,"v":0.8},{"i":217,"v":0.7},{"i":218,"v":0.8},{"i":219,"v":0.9},
{"i":220,"v":0.8},{"i":221,"v":0.7},{"i":222,"v":0.9},{"i":223,"v":1.0},{"i":224,"v":2.0},{"i":225,"v":3.0},{"i":226,"v":8.0},{"i":227,"v":11.0},{"i":228,"v":6.0},{"i":229,"v":2.0},
{"i":230,"v":4.0},{"i":231,"v":9.0},{"i":232,"v":12.0},{"i":233,"v":12.5},{"i":234,"v":9.0},{"i":235,"v":2.3},{"i":236,"v":10.0},{"i":237,"v":11.0},{"i":238,"v":15.0},{"i":239,"v":40.0},
{"i":240,"v":65.0},{"i":241,"v":0.5},{"i":242,"v":5.0},{"i":243,"v":44.5},{"i":244,"v":1.5},{"i":245,"v":20.0},{"i":246,"v":45.0},{"i":247,"v":67.0},{"i":248,"v":23.0},{"i":249,"v":29.0},
{"i":250,"v":22.5},{"i":251,"v":29.5},{"i":252,"v":4.0},{"i":253,"v":5.0},{"i":254,"v":3.5},{"i":255,"v":13.5},{"i":256,"v":0.5},{"i":257,"v":25.5},{"i":258,"v":10.0},{"i":259,"v":82.5},
{"i":260,"v":0.5},{"i":261,"v":2.0},{"i":262,"v":1.0},{"i":263,"v":30.0},{"i":264,"v":44.0},{"i":265,"v":1.0},{"i":266,"v":0.5},{"i":267,"v":4.0},{"i":268,"v":2.0},{"i":269,"v":17.0},
{"i":270,"v":1.0},{"i":271,"v":16.5},{"i":272,"v":5.0},{"i":273,"v":10.0},{"i":274,"v":1.5},{"i":275,"v":9.5},{"i":276,"v":1.0},{"i":277,"v":13.0},{"i":278,"v":0.5},{"i":279,"v":1.0},
{"i":280,"v":0.8},{"i":281,"v":1.0},{"i":282,"v":0.5},{"i":283,"v":1.5},{"i":284,"v":1.0},{"i":285,"v":20.0},{"i":286,"v":1.0},{"i":287,"v":2.0},{"i":288,"v":9.0},{"i":289,"v":1.0},
{"i":290,"v":0.5},{"i":291,"v":0.8},{"i":292,"v":21.5},{"i":293,"v":0.5},{"i":294,"v":1.0},{"i":295,"v":0.8},{"i":296,"v":2.0},{"i":297,"v":1.5},{"i":298,"v":2.5},{"i":299,"v":2.0},
{"i":300,"v":1.0},{"i":301,"v":3.0},{"i":302,"v":23.0},{"i":303,"v":0.5},{"i":304,"v":2.0},{"i":305,"v":37.0},{"i":306,"v":2.0},{"i":307,"v":1.0},{"i":308,"v":5.0},{"i":309,"v":4.5},
{"i":310,"v":1.0},{"i":311,"v":0.5},{"i":312,"v":1.0},{"i":313,"v":0.5},{"i":314,"v":0.3},{"i":315,"v":0.8},{"i":316,"v":0.5},{"i":317,"v":0.3},{"i":318,"v":0.5},{"i":319,"v":0.5}
],
"g4": [
{"i":0,"v":11.0},{"i":1,"v":27.7},{"i":2,"v":27.0},{"i":3,"v":8.5},{"i":4,"v":21.3},{"i":5,"v":1.0},{"i":6,"v":0.5},{"i":7,"v":8.0},{"i":8,"v":6.5},{"i":9,"v":7.5},
{"i":10,"v":8.3},{"i":11,"v":2.0},{"i":12,"v":5.0},{"i":13,"v":1.5},{"i":14,"v":4.8},{"i":15,"v":0.5},{"i":16,"v":6.7},{"i":17,"v":6.0},{"i":18,"v":0.3},{"i":19,"v":0.3},
{"i":20,"v":1.2},{"i":21,"v":1.5},{"i":22,"v":2.5},{"i":23,"v":1.0},{"i":24,"v":2.0},{"i":25,"v":0.5},{"i":26,"v":1.0},{"i":27,"v":0.5},{"i":28,"v":2.0},{"i":29,"v":1.0},
{"i":30,"v":11.0},{"i":31,"v":1.0},{"i":32,"v":0.5},{"i":33,"v":1.0},{"i":34,"v":4.5},{"i":35,"v":5.0},{"i":36,"v":14.0},{"i":37,"v":4.0},{"i":38,"v":1.0},{"i":39,"v":0.3},
{"i":40,"v":0.5},{"i":41,"v":1.0},{"i":42,"v":12.6},{"i":43,"v":1.0},{"i":44,"v":0.5},{"i":45,"v":1.0},{"i":46,"v":0.5},{"i":47,"v":1.0},{"i":48,"v":0.5},{"i":49,"v":0.8},
{"i":50,"v":4.2},{"i":51,"v":1.5},{"i":52,"v":0.5},{"i":53,"v":0.8},{"i":54,"v":1.0},{"i":55,"v":0.5},{"i":56,"v":1.2},{"i":57,"v":0.8},{"i":58,"v":2.6},{"i":59,"v":1.0},
{"i":60,"v":0.5},{"i":61,"v":0.7},{"i":62,"v":1.0},{"i":63,"v":0.5},{"i":64,"v":2.5},{"i":65,"v":0.5},{"i":66,"v":1.2},{"i":67,"v":0.3},{"i":68,"v":0.5},{"i":69,"v":1.0},
{"i":70,"v":0.8},{"i":71,"v":0.5},{"i":72,"v":2.0},{"i":73,"v":5.2},{"i":74,"v":1.0},{"i":75,"v":0.5},{"i":76,"v":1.5},{"i":77,"v":0.4},{"i":78,"v":5.0},{"i":79,"v":3.0},
{"i":80,"v":2.5},{"i":81,"v":0.5},{"i":82,"v":1.0},{"i":83,"v":3.0},{"i":84,"v":0.5},{"i":85,"v":4.5},{"i":86,"v":0.5},{"i":87,"v":8.3},{"i":88,"v":0.5},{"i":89,"v":1.0},
{"i":90,"v":0.3},{"i":91,"v":2.0},{"i":92,"v":4.5},{"i":93,"v":0.5},{"i":94,"v":2.0},{"i":95,"v":1.5},{"i":96,"v":0.3},{"i":97,"v":1.0},{"i":98,"v":0.5},{"i":99,"v":2.0},
{"i":100,"v":4.0},{"i":101,"v":1.5},{"i":102,"v":1.0},{"i":103,"v":1.5},{"i":104,"v":1.7},{"i":105,"v":0.5},{"i":106,"v":1.0},{"i":107,"v":1.5},{"i":108,"v":0.5},{"i":109,"v":12.2},
{"i":110,"v":9.0},{"i":111,"v":0.5},{"i":112,"v":3.0},{"i":113,"v":9.0},{"i":114,"v":0.5},{"i":115,"v":4.3},{"i":116,"v":4.0},{"i":117,"v":1.0},{"i":118,"v":5.0},{"i":119,"v":2.0},
{"i":120,"v":5.3},{"i":121,"v":0.5},{"i":122,"v":1.0},{"i":123,"v":3.0},{"i":124,"v":1.0},{"i":125,"v":3.0},{"i":126,"v":0.5},{"i":127,"v":1.0},{"i":128,"v":2.0},{"i":129,"v":1.0},
{"i":130,"v":11.7},{"i":131,"v":1.0},{"i":132,"v":0.5},{"i":133,"v":2.0},{"i":134,"v":0.5},{"i":135,"v":1.0},{"i":136,"v":0.8},{"i":137,"v":9.2},{"i":138,"v":1.0},{"i":139,"v":2.0},
{"i":140,"v":9.8},{"i":141,"v":0.5},{"i":142,"v":1.0},{"i":143,"v":5.0},{"i":144,"v":14.0},{"i":145,"v":1.0},{"i":146,"v":0.5},{"i":147,"v":2.0},{"i":148,"v":0.5},{"i":149,"v":4.0},
{"i":150,"v":10.6},{"i":151,"v":4.5},{"i":152,"v":0.5},{"i":153,"v":1.0},{"i":154,"v":0.5},{"i":155,"v":3.0},{"i":156,"v":1.0},{"i":157,"v":5.0},{"i":158,"v":10.0},{"i":159,"v":12.0},
{"i":160,"v":20.2},{"i":161,"v":11.0},{"i":162,"v":15.5},{"i":163,"v":10.7},{"i":164,"v":15.2},{"i":165,"v":1.0},{"i":166,"v":9.0},{"i":167,"v":14.8},{"i":168,"v":5.0},{"i":169,"v":9.5},
{"i":170,"v":7.5},{"i":171,"v":8.0},{"i":172,"v":12.0},{"i":173,"v":26.8},{"i":174,"v":8.0},{"i":175,"v":10.0},{"i":176,"v":8.5},{"i":177,"v":1.8},{"i":178,"v":5.0},{"i":179,"v":3.0},
{"i":180,"v":9.3},{"i":181,"v":1.0},{"i":182,"v":0.5},{"i":183,"v":1.0},{"i":184,"v":1.0},{"i":185,"v":0.5},{"i":186,"v":1.0},{"i":187,"v":0.7},{"i":188,"v":5.0},{"i":189,"v":13.2},
{"i":190,"v":1.0},{"i":191,"v":9.5},{"i":192,"v":0.5},{"i":193,"v":1.0},{"i":194,"v":0.5},{"i":195,"v":3.0},{"i":196,"v":8.0},{"i":197,"v":0.5},{"i":198,"v":3.0},{"i":199,"v":1.0},
{"i":200,"v":2.0},{"i":201,"v":0.5},{"i":202,"v":6.2},{"i":203,"v":0.5},{"i":204,"v":3.0},{"i":205,"v":1.0},{"i":206,"v":1.0},{"i":207,"v":2.0},{"i":208,"v":7.5},{"i":209,"v":1.0},
{"i":210,"v":0.5},{"i":211,"v":1.0},{"i":212,"v":1.0},{"i":213,"v":0.5},{"i":214,"v":1.2},{"i":215,"v":0.8},{"i":216,"v":0.5},{"i":217,"v":1.0},{"i":218,"v":2.0},{"i":219,"v":17.9},
{"i":220,"v":0.5},{"i":221,"v":1.0},{"i":222,"v":0.5},{"i":223,"v":1.0},{"i":224,"v":4.6},{"i":225,"v":0.5},{"i":226,"v":2.0},{"i":227,"v":9.1},{"i":228,"v":0.5},{"i":229,"v":11.4},
{"i":230,"v":1.0},{"i":231,"v":0.3},{"i":232,"v":5.0},{"i":233,"v":12.9},{"i":234,"v":1.0},{"i":235,"v":0.5},{"i":236,"v":2.0},{"i":237,"v":9.6},{"i":238,"v":1.0},{"i":239,"v":10.3},
{"i":240,"v":0.5},{"i":241,"v":1.0},{"i":242,"v":0.5},{"i":243,"v":2.0},{"i":244,"v":0.5},{"i":245,"v":1.0},{"i":246,"v":5.8},{"i":247,"v":3.0},{"i":248,"v":12.5},{"i":249,"v":2.5},
{"i":250,"v":6.0},{"i":251,"v":1.0},{"i":252,"v":13.2},{"i":253,"v":0.5},{"i":254,"v":5.0},{"i":255,"v":19.8},{"i":256,"v":0.5},{"i":257,"v":1.0},{"i":258,"v":6.0},{"i":259,"v":7.6},
{"i":260,"v":1.0},{"i":261,"v":5.0},{"i":262,"v":23.2},{"i":263,"v":0.5},{"i":264,"v":1.0},{"i":265,"v":7.6},{"i":266,"v":2.0},{"i":267,"v":1.0},{"i":268,"v":14.3},{"i":269,"v":2.0},
{"i":270,"v":1.0},{"i":271,"v":4.4},{"i":272,"v":1.0},{"i":273,"v":4.0},{"i":274,"v":0.5},{"i":275,"v":9.0},{"i":276,"v":12.0},{"i":277,"v":1.0},{"i":278,"v":0.5},{"i":279,"v":1.0},
{"i":280,"v":0.8},{"i":281,"v":2.7},{"i":282,"v":0.5},{"i":283,"v":0.3},{"i":284,"v":1.0},{"i":285,"v":2.0},{"i":286,"v":4.6},{"i":287,"v":0.5},{"i":288,"v":1.0},{"i":289,"v":5.0},
{"i":290,"v":13.7},{"i":291,"v":1.0},{"i":292,"v":0.3},{"i":293,"v":1.0},{"i":294,"v":2.0},{"i":295,"v":9.7},{"i":296,"v":2.0},{"i":297,"v":0.5},{"i":298,"v":0.3},{"i":299,"v":1.0},
{"i":300,"v":2.0},{"i":301,"v":1.0},{"i":302,"v":26.5},{"i":303,"v":26.0},{"i":304,"v":1.0},{"i":305,"v":0.5},{"i":306,"v":1.0},{"i":307,"v":0.5},{"i":308,"v":1.0},{"i":309,"v":3.0},
{"i":310,"v":7.0},{"i":311,"v":2.0},{"i":312,"v":1.0},{"i":313,"v":1.8},{"i":314,"v":2.0},{"i":315,"v":1.0},{"i":316,"v":5.0},{"i":317,"v":9.8},{"i":318,"v":1.0},{"i":319,"v":0.8}
],
"g5": [
{"i":0,"v":1.10},{"i":1,"v":0.95},{"i":2,"v":1.10},{"i":3,"v":1.05},{"i":4,"v":1.10},{"i":5,"v":1.15},{"i":6,"v":1.30},{"i":7,"v":1.50},{"i":8,"v":1.70},{"i":9,"v":1.80},
{"i":10,"v":1.60},{"i":11,"v":2.50},{"i":12,"v":2.00},{"i":13,"v":2.70},{"i":14,"v":1.90},{"i":15,"v":2.20},{"i":16,"v":2.00},{"i":17,"v":1.85},{"i":18,"v":2.30},{"i":19,"v":2.00},
{"i":20,"v":2.20},{"i":21,"v":2.50},{"i":22,"v":3.00},{"i":23,"v":3.50},{"i":24,"v":2.80},{"i":25,"v":4.40},{"i":26,"v":3.50},{"i":27,"v":4.20},{"i":28,"v":3.00},{"i":29,"v":2.50},
{"i":30,"v":2.80},{"i":31,"v":2.20},{"i":32,"v":4.50},{"i":33,"v":3.50},{"i":34,"v":4.00},{"i":35,"v":3.20},{"i":36,"v":4.50},{"i":37,"v":3.80},{"i":38,"v":3.80},{"i":39,"v":4.00},
{"i":40,"v":4.20},{"i":41,"v":3.90},{"i":42,"v":4.40},{"i":43,"v":5.70},{"i":44,"v":4.20},{"i":45,"v":5.00},{"i":46,"v":4.30},{"i":47,"v":3.10},{"i":48,"v":5.50},{"i":49,"v":5.80},
{"i":50,"v":4.00},{"i":51,"v":4.50},{"i":52,"v":4.30},{"i":53,"v":4.60},{"i":54,"v":3.80},{"i":55,"v":4.50},{"i":56,"v":5.00},{"i":57,"v":6.40},{"i":58,"v":4.80},{"i":59,"v":3.50},
{"i":60,"v":2.90},{"i":61,"v":4.50},{"i":62,"v":5.30},{"i":63,"v":5.00},{"i":64,"v":4.20},{"i":65,"v":3.50},{"i":66,"v":5.30},{"i":67,"v":4.00},{"i":68,"v":5.00},{"i":69,"v":3.60},
{"i":70,"v":4.60},{"i":71,"v":5.10},{"i":72,"v":3.30},{"i":73,"v":5.00},{"i":74,"v":3.50},{"i":75,"v":4.60},{"i":76,"v":3.80},{"i":77,"v":4.30},{"i":78,"v":3.30},{"i":79,"v":4.20},
{"i":80,"v":4.40},{"i":81,"v":4.50},{"i":82,"v":4.30},{"i":83,"v":4.70},{"i":84,"v":4.20},{"i":85,"v":4.50},{"i":86,"v":4.40},{"i":87,"v":4.60},{"i":88,"v":4.30},{"i":89,"v":4.50},
{"i":90,"v":4.40},{"i":91,"v":4.60},{"i":92,"v":2.90},{"i":93,"v":6.20},{"i":94,"v":4.00},{"i":95,"v":4.60},{"i":96,"v":3.50},{"i":97,"v":4.60},{"i":98,"v":4.20},{"i":99,"v":4.70},
{"i":100,"v":4.00},{"i":101,"v":2.80},{"i":102,"v":4.50},{"i":103,"v":4.30},{"i":104,"v":3.80},{"i":105,"v":4.80},{"i":106,"v":3.40},{"i":107,"v":4.60},{"i":108,"v":6.30},{"i":109,"v":5.50},
{"i":110,"v":3.50},{"i":111,"v":4.30},{"i":112,"v":5.00},{"i":113,"v":6.00},{"i":114,"v":3.50},{"i":115,"v":5.80},{"i":116,"v":4.50},{"i":117,"v":5.00},{"i":118,"v":4.80},{"i":119,"v":4.50},
{"i":120,"v":4.20},{"i":121,"v":4.00},{"i":122,"v":3.40},{"i":123,"v":4.60},{"i":124,"v":5.00},{"i":125,"v":4.50},{"i":126,"v":5.20},{"i":127,"v":6.50},{"i":128,"v":5.30},{"i":129,"v":5.00},
{"i":130,"v":4.90},{"i":131,"v":6.90},{"i":132,"v":5.00},{"i":133,"v":4.00},{"i":134,"v":3.60},{"i":135,"v":4.70},{"i":136,"v":4.20},{"i":137,"v":3.80},{"i":138,"v":4.50},{"i":139,"v":2.80},
{"i":140,"v":4.70},{"i":141,"v":2.80},{"i":142,"v":4.00},{"i":143,"v":3.80},{"i":144,"v":3.60},{"i":145,"v":4.30},{"i":146,"v":3.80},{"i":147,"v":4.80},{"i":148,"v":3.60},{"i":149,"v":4.90},
{"i":150,"v":4.90},{"i":151,"v":5.40},{"i":152,"v":3.50},{"i":153,"v":2.10},{"i":154,"v":3.00},{"i":155,"v":2.30},{"i":156,"v":1.70},{"i":157,"v":2.40},{"i":158,"v":2.00},{"i":159,"v":2.40},
{"i":160,"v":1.90},{"i":161,"v":2.50},{"i":162,"v":2.20},{"i":163,"v":1.60},{"i":164,"v":1.50},{"i":165,"v":1.30},{"i":166,"v":1.20},{"i":167,"v":1.15},{"i":168,"v":1.20},{"i":169,"v":1.10},
{"i":170,"v":1.00},{"i":171,"v":1.05},{"i":172,"v":0.95},{"i":173,"v":0.90},{"i":174,"v":0.92},{"i":175,"v":0.85},{"i":176,"v":0.80},{"i":177,"v":0.78},{"i":178,"v":0.75},{"i":179,"v":0.72},
{"i":180,"v":0.70},{"i":181,"v":0.68},{"i":182,"v":0.65},{"i":183,"v":0.62},{"i":184,"v":0.60},{"i":185,"v":0.58},{"i":186,"v":0.55},{"i":187,"v":0.55},{"i":188,"v":0.52},{"i":189,"v":0.50},
{"i":190,"v":0.50},{"i":191,"v":0.48},{"i":192,"v":0.46},{"i":193,"v":0.48},{"i":194,"v":0.44},{"i":195,"v":0.42},{"i":196,"v":0.40},{"i":197,"v":0.40},{"i":198,"v":0.38},{"i":199,"v":0.36},
{"i":200,"v":0.33},{"i":201,"v":0.30},{"i":202,"v":0.30},{"i":203,"v":0.26},{"i":204,"v":0.25},{"i":205,"v":0.24},{"i":206,"v":0.22},{"i":207,"v":0.22},{"i":208,"v":0.21},{"i":209,"v":0.20},
{"i":210,"v":0.20},{"i":211,"v":0.19},{"i":212,"v":0.18},{"i":213,"v":0.18},{"i":214,"v":0.17},{"i":215,"v":0.18},{"i":216,"v":0.17},{"i":217,"v":0.16},{"i":218,"v":0.17},{"i":219,"v":0.16},
{"i":220,"v":0.16},{"i":221,"v":0.15},{"i":222,"v":0.16},{"i":223,"v":0.15},{"i":224,"v":0.16},{"i":225,"v":0.15},{"i":226,"v":0.16},{"i":227,"v":0.15},{"i":228,"v":0.16},{"i":229,"v":0.17},
{"i":230,"v":0.16},{"i":231,"v":0.17},{"i":232,"v":0.16},{"i":233,"v":0.17},{"i":234,"v":0.16},{"i":235,"v":0.17},{"i":236,"v":0.18},{"i":237,"v":0.17},{"i":238,"v":0.18},{"i":239,"v":0.16},
{"i":240,"v":0.18},{"i":241,"v":0.20},{"i":242,"v":0.22},{"i":243,"v":0.24},{"i":244,"v":0.26},{"i":245,"v":0.28},{"i":246,"v":0.30},{"i":247,"v":0.30},{"i":248,"v":0.31},{"i":249,"v":0.32},
{"i":250,"v":0.33},{"i":251,"v":0.35},{"i":252,"v":0.38},{"i":253,"v":0.42},{"i":254,"v":0.50},{"i":255,"v":0.60},{"i":256,"v":0.70},{"i":257,"v":0.80},{"i":258,"v":0.85},{"i":259,"v":0.95},
{"i":260,"v":0.90},{"i":261,"v":0.85},{"i":262,"v":0.90},{"i":263,"v":1.00},{"i":264,"v":1.00},{"i":265,"v":1.20},{"i":266,"v":1.30},{"i":267,"v":1.50},{"i":268,"v":1.55},{"i":269,"v":1.40},
{"i":270,"v":1.60},{"i":271,"v":2.00},{"i":272,"v":3.00},{"i":273,"v":2.20},{"i":274,"v":3.00},{"i":275,"v":2.00},{"i":276,"v":1.20},{"i":277,"v":1.80},{"i":278,"v":2.00},{"i":279,"v":1.90},
{"i":280,"v":2.10},{"i":281,"v":2.20},{"i":282,"v":2.70},{"i":283,"v":2.50},{"i":284,"v":2.80},{"i":285,"v":2.50},{"i":286,"v":2.60},{"i":287,"v":3.50},{"i":288,"v":2.40},{"i":289,"v":2.60},
{"i":290,"v":2.80},{"i":291,"v":3.00},{"i":292,"v":3.20},{"i":293,"v":3.80},{"i":294,"v":3.70},{"i":295,"v":3.90},{"i":296,"v":7.50},{"i":297,"v":5.80},{"i":298,"v":7.00},{"i":299,"v":10.00},
{"i":300,"v":7.50},{"i":301,"v":5.80},{"i":302,"v":6.80},{"i":303,"v":6.00},{"i":304,"v":6.90},{"i":305,"v":7.30},{"i":306,"v":6.00},{"i":307,"v":6.20},{"i":308,"v":5.70},{"i":309,"v":6.20},
{"i":310,"v":5.10},{"i":311,"v":8.50},{"i":312,"v":8.40},{"i":313,"v":4.20},{"i":314,"v":5.00},{"i":315,"v":4.50},{"i":316,"v":6.50},{"i":317,"v":3.50},{"i":318,"v":6.40},{"i":319,"v":5.20}
]
},
"hconcat": [
{"title": "Prompt", "width": 300, "height": 225, "data": {"name": "prompt"}, "mark": {"type": "line"},
 "encoding": {"x": {"field": "i", "type": "quantitative", "scale": {"domain": [-15.95, 334.95], "nice": false, "zero": false}, "axis": {"title": null, "values": [0,50,100,150,200,250,300]}},
  "y": {"field": "v", "type": "quantitative", "scale": {"domain": [0.708, 2.999], "nice": false, "zero": false}, "axis": {"title": null, "values": [1.0,1.5,2.0,2.5], "format": ".1f"}}}},
{"title": "Generated 1", "width": 300, "height": 225, "data": {"name": "g1"}, "mark": {"type": "line"},
 "encoding": {"x": {"field": "i", "type": "quantitative", "scale": {"domain": [-15.95, 334.95], "nice": false, "zero": false}, "axis": {"title": null, "values": [0,50,100,150,200,250,300]}},
  "y": {"field": "v", "type": "quantitative", "scale": {"domain": [-0.36, 11.28], "nice": false, "zero": false}, "axis": {"title": null, "values": [0,2,4,6,8,10]}}}},
{"title": "Generated 2", "width": 300, "height": 225, "data": {"name": "g2"}, "mark": {"type": "line"},
 "encoding": {"x": {"field": "i", "type": "quantitative", "scale": {"domain": [-15.95, 334.95], "nice": false, "zero": false}, "axis": {"title": null, "values": [0,50,100,150,200,250,300]}},
  "y": {"field": "v", "type": "quantitative", "scale": {"domain": [-1.5, 37.24], "nice": false, "zero": false}, "axis": {"title": null, "values": [0,5,10,15,20,25,30,35]}}}},
{"title": "Generated 3", "width": 300, "height": 225, "data": {"name": "g3"}, "mark": {"type": "line"},
 "encoding": {"x": {"field": "i", "type": "quantitative", "scale": {"domain": [-15.95, 334.95], "nice": false, "zero": false}, "axis": {"title": null, "values": [0,50,100,150,200,250,300]}},
  "y": {"field": "v", "type": "quantitative", "scale": {"domain": [-3.9, 86.6], "nice": false, "zero": false}, "axis": {"title": null, "values": [0,20,40,60,80]}}}},
{"title": "Generated 4", "width": 300, "height": 225, "data": {"name": "g4"}, "mark": {"type": "line"},
 "encoding": {"x": {"field": "i", "type": "quantitative", "scale": {"domain": [-15.95, 334.95], "nice": false, "zero": false}, "axis": {"title": null, "values": [0,50,100,150,200,250,300]}},
  "y": {"field": "v", "type": "quantitative", "scale": {"domain": [-1.07, 29.06], "nice": false, "zero": false}, "axis": {"title": null, "values": [0,5,10,15,20,25]}}}},
{"title": "Generated 5", "width": 300, "height": 225, "data": {"name": "g5"}, "mark": {"type": "line"},
 "encoding": {"x": {"field": "i", "type": "quantitative", "scale": {"domain": [-15.95, 334.95], "nice": false, "zero": false}, "axis": {"title": null, "values": [0,50,100,150,200,250,300]}},
  "y": {"field": "v", "type": "quantitative", "scale": {"domain": [-0.32, 10.5], "nice": false, "zero": false}, "axis": {"title": null, "values": [0,2,4,6,8,10]}}}}
]
}
